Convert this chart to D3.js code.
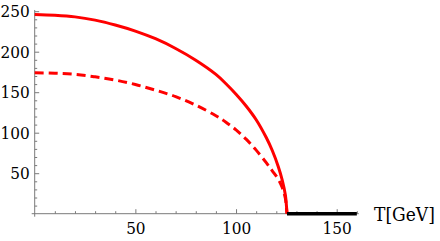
<!DOCTYPE html>
<html>
<head>
<meta charset="utf-8">
<script src="https://cdn.jsdelivr.net/npm/d3@7"></script>
<style>
  body { margin: 0; background: #fff; }
</style>
</head>
<body>
<div id="root"></div>
<script>
const width = 440;
const height = 241;

// values
const temps = [0, 10, 20, 30, 40, 50, 60, 70, 80, 90, 95, 100, 105, 110, 115, 118, 121, 123, 124.5, 125.3];
const solidVals = [246, 245, 243, 239, 233, 225.5, 216, 204, 189.5, 172, 160.5, 147.5, 133, 116, 94, 78, 58, 41, 23, 0];
const dashedVals = [174, 173.4, 172, 169, 165, 159.5, 152.5, 144.5, 134, 121, 113, 103.5, 92, 78.5, 63, 53, 42.5, 32, 19, 0];
const flatTemps = [125.3, 160];
const flatVals = [0, 0];
const xTicks = [50, 100, 150];
const yTicks = [50, 100, 150, 200, 250];
const xLabel = 'T[GeV]';

const fontFamily = '"DejaVu Serif Condensed", "DejaVu Serif", serif';
const tickFontSize = 17;
const labelFontSize = 19;

const x = d3.scaleLinear().domain([0, 150]).range([34.7, 336.7]);
const y = d3.scaleLinear().domain([0, 250]).range([213.7, 11.2]);

const svg = d3.select('#root')
  .append('svg')
  .attr('width', width)
  .attr('height', height);

const axisColor = '#7a7a7a';

// minor ticks
const xMinor = d3.range(10, 161, 10).filter(v => v % 50 !== 0);
const yMinor = d3.range(10, 251, 10).filter(v => v % 50 !== 0);

svg.append('g')
  .attr('transform', `translate(0,${y(0)})`)
  .call(d3.axisBottom(x).tickValues(xMinor).tickSize(-2.5).tickFormat(''))
  .call(g => g.select('.domain').remove())
  .call(g => g.selectAll('line').attr('stroke', axisColor));

svg.append('g')
  .attr('transform', `translate(${x(0)},0)`)
  .call(d3.axisLeft(y).tickValues(yMinor).tickSize(-2.5).tickFormat(''))
  .call(g => g.select('.domain').remove())
  .call(g => g.selectAll('line').attr('stroke', axisColor));

// major ticks + labels
const xAxis = svg.append('g')
  .attr('transform', `translate(0,${y(0)})`)
  .call(d3.axisBottom(x).tickValues(xTicks).tickSizeInner(-4.5).tickSizeOuter(0).tickPadding(8))
  .call(g => g.select('.domain').remove());
xAxis.selectAll('line').attr('stroke', axisColor);
xAxis.selectAll('text')
  .attr('font-size', tickFontSize)
  .attr('font-family', fontFamily)
  .attr('fill', '#000');

const yAxis = svg.append('g')
  .attr('transform', `translate(${x(0)},0)`)
  .call(d3.axisLeft(y).tickValues(yTicks).tickSizeInner(-4.5).tickSizeOuter(0).tickPadding(5))
  .call(g => g.select('.domain').remove());
yAxis.selectAll('line').attr('stroke', axisColor);
yAxis.selectAll('text')
  .attr('font-size', tickFontSize)
  .attr('font-family', fontFamily)
  .attr('fill', '#000');

// axis lines
svg.append('line')
  .attr('x1', x(0) - 3).attr('x2', x(160) + 2)
  .attr('y1', y(0)).attr('y2', y(0))
  .attr('stroke', axisColor).attr('stroke-width', 1);
svg.append('line')
  .attr('x1', x(0)).attr('x2', x(0))
  .attr('y1', y(0) + 3).attr('y2', y(251.5))
  .attr('stroke', axisColor).attr('stroke-width', 1);

svg.append('text')
  .attr('x', 374)
  .attr('y', 221)
  .attr('font-size', labelFontSize)
  .attr('font-family', fontFamily)
  .attr('fill', '#000')
  .text(xLabel);

const line = d3.line()
  .x(d => x(d[0]))
  .y(d => y(d[1]))
  .curve(d3.curveCatmullRom.alpha(0.5));

svg.append('path')
  .attr('d', line(temps.map((t, i) => [t, dashedVals[i]])))
  .attr('fill', 'none')
  .attr('stroke', '#ff0000')
  .attr('stroke-width', 3)
  .attr('stroke-dasharray', '9,5');

svg.append('path')
  .attr('d', line(temps.map((t, i) => [t, solidVals[i]])))
  .attr('fill', 'none')
  .attr('stroke', '#ff0000')
  .attr('stroke-width', 3);

svg.append('path')
  .attr('d', d3.line().x(d => x(d[0])).y(d => y(d[1]))(flatTemps.map((t, i) => [t, flatVals[i]])))
  .attr('fill', 'none')
  .attr('stroke', '#000')
  .attr('stroke-width', 3.5);
</script>
</body>
</html>
